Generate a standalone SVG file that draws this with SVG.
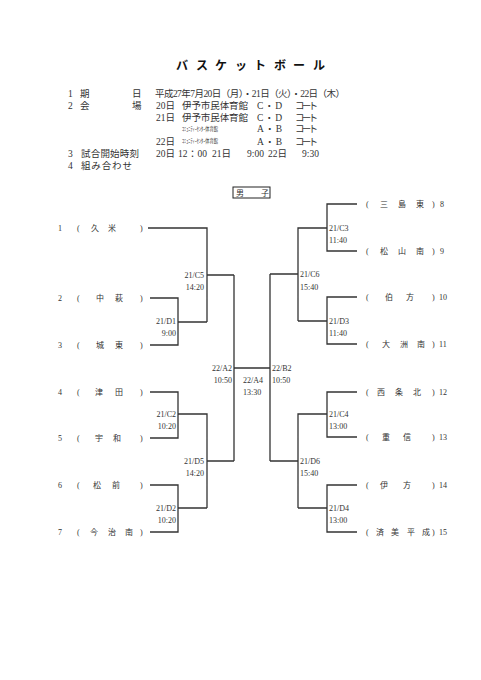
<svg xmlns="http://www.w3.org/2000/svg" width="481" height="680" viewBox="0 0 481 680">
<style>
.t{font-family:"Liberation Serif","Noto Sans CJK JP",serif;fill:#333}
.h{font-size:9.5px}
.sm{font-size:5.5px}
.n{font-size:8px}
.l{font-size:8px}
.e{text-anchor:end}
.ttl{font-family:"Noto Sans CJK JP",sans-serif;font-size:12px;font-weight:bold;fill:#111}
.ln{stroke:#333;stroke-width:1.3;fill:none}
</style>
<rect width="481" height="680" fill="#fff"/>
<g id="title">
<text class="ttl" x="176 196 215 235 254 274 293 313" y="69.5">バスケットボール</text>
</g>
<g id="header" class="t h">
<text x="68" y="96.5">1</text><text x="80" y="96.5">期</text><text x="132" y="96.5">日</text>
<text x="155" y="96.5" textLength="190" lengthAdjust="spacing">平成27年7月20日（月）・21日（火）・22日（木）</text>
<text x="68" y="108.5">2</text><text x="80" y="108.5">会</text><text x="132" y="108.5">場</text>
<text x="156" y="108.5">20日</text><text x="182" y="108.5" textLength="66" lengthAdjust="spacing">伊予市民体育館</text><text x="257" y="108.5" textLength="25" lengthAdjust="spacing">C・D</text><text x="295" y="108.5" textLength="23" lengthAdjust="spacing">コート</text>
<text x="156" y="120.5">21日</text><text x="182" y="120.5" textLength="66" lengthAdjust="spacing">伊予市民体育館</text><text x="257" y="120.5" textLength="25" lengthAdjust="spacing">C・D</text><text x="295" y="120.5" textLength="23" lengthAdjust="spacing">コート</text>
<text class="sm" x="182" y="130.5" textLength="36" lengthAdjust="spacingAndGlyphs">ｺﾐｭﾆﾃｨｰｾﾝﾀｰ体育館</text><text x="257" y="132" textLength="25" lengthAdjust="spacing">A・B</text><text x="295" y="132" textLength="23" lengthAdjust="spacing">コート</text>
<text x="156" y="144.5">22日</text><text class="sm" x="182" y="143" textLength="36" lengthAdjust="spacingAndGlyphs">ｺﾐｭﾆﾃｨｰｾﾝﾀｰ体育館</text><text x="257" y="144.5" textLength="25" lengthAdjust="spacing">A・B</text><text x="295" y="144.5" textLength="23" lengthAdjust="spacing">コート</text>
<text x="68" y="156.5">3</text><text x="81" y="156.5" textLength="58" lengthAdjust="spacing">試合開始時刻</text>
<text x="156" y="156.5">20日</text><text x="178" y="156.5" textLength="29" lengthAdjust="spacing">12：00</text><text x="212" y="156.5">21日</text><text x="247" y="156.5">9:00</text><text x="268" y="156.5">22日</text><text x="302" y="156.5">9:30</text>
<text x="68" y="168.5">4</text><text x="81" y="168.5" textLength="51" lengthAdjust="spacing">組み合わせ</text>
</g>
<g id="label-boys">
<rect x="233" y="187" width="37" height="11" fill="none" stroke="#222" stroke-width="1"/>
<text class="t n" x="236" y="195.5">男</text><text class="t n" x="261" y="195.5">子</text>
</g>
<g id="connectors" class="ln">
<path d="M148,228H207V322M150,298H178V345H150M178,322H207M207,275H234"/>
<path d="M150,392H178V438H150M178,414H207V508M150,485H178V532H150M178,508H207M207,461H234"/>
<path d="M234,275V461M234,368H270M270,274V461"/>
<path d="M357,204H327V251H357M327,228H298V321M357,297H327V344H357M327,321H298M298,274H270"/>
<path d="M357,392H327V437H357M327,414H298V508M357,485H327V532H357M327,508H298M298,461H270"/>
</g>
<g id="teams" class="t n">
<g id="t1"><text x="58" y="231">1</text><text x="77" y="231">(</text><text x="91 108" y="231">久米</text><text x="140" y="231">)</text></g>
<g id="t2"><text x="58" y="301">2</text><text x="77" y="301">(</text><text x="96 115" y="301">中萩</text><text x="140" y="301">)</text></g>
<g id="t3"><text x="58" y="348">3</text><text x="77" y="348">(</text><text x="96 115" y="348">城東</text><text x="140" y="348">)</text></g>
<g id="t4"><text x="58" y="395">4</text><text x="77" y="395">(</text><text x="95 115" y="395">津田</text><text x="140" y="395">)</text></g>
<g id="t5"><text x="58" y="441">5</text><text x="77" y="441">(</text><text x="95 113" y="441">宇和</text><text x="140" y="441">)</text></g>
<g id="t6"><text x="58" y="488">6</text><text x="77" y="488">(</text><text x="93 112" y="488">松前</text><text x="140" y="488">)</text></g>
<g id="t7"><text x="58" y="535">7</text><text x="77" y="535">(</text><text x="90 108 125" y="535">今治南</text><text x="140" y="535">)</text></g>
<g id="t8"><text x="366" y="207">(</text><text x="380 398 416" y="207">三島東</text><text x="432" y="207">)</text><text x="440" y="207">8</text></g>
<g id="t9"><text x="366" y="254">(</text><text x="380 398 416" y="254">松山南</text><text x="432" y="254">)</text><text x="440" y="254">9</text></g>
<g id="t10"><text x="366" y="300">(</text><text x="385 406" y="300">伯方</text><text x="432" y="300">)</text><text x="439" y="300">10</text></g>
<g id="t11"><text x="366" y="347">(</text><text x="382 400 417" y="347">大洲南</text><text x="432" y="347">)</text><text x="439" y="347">11</text></g>
<g id="t12"><text x="366" y="395">(</text><text x="377 395 413" y="395">西条北</text><text x="432" y="395">)</text><text x="439" y="395">12</text></g>
<g id="t13"><text x="366" y="440">(</text><text x="382 403" y="440">重信</text><text x="432" y="440">)</text><text x="439" y="440">13</text></g>
<g id="t14"><text x="366" y="488">(</text><text x="380 403" y="488">伊方</text><text x="432" y="488">)</text><text x="439" y="488">14</text></g>
<g id="t15"><text x="366" y="535">(</text><text x="376 391 407 422" y="535">済美平成</text><text x="432" y="535">)</text><text x="439" y="535">15</text></g>
</g>
<g id="matches" class="t l">
<g id="m-c5"><text class="e" x="204" y="277.5">21/C5</text><text class="e" x="204" y="290">14:20</text></g>
<g id="m-d1"><text class="e" x="176" y="324">21/D1</text><text class="e" x="176" y="336">9:00</text></g>
<g id="m-a2"><text class="e" x="232" y="370.5">22/A2</text><text class="e" x="232" y="383">10:50</text></g>
<g id="m-c2"><text class="e" x="176" y="416.5">21/C2</text><text class="e" x="176" y="429">10:20</text></g>
<g id="m-d5"><text class="e" x="204" y="463.5">21/D5</text><text class="e" x="204" y="476">14:20</text></g>
<g id="m-d2"><text class="e" x="176" y="510.5">21/D2</text><text class="e" x="176" y="523">10:20</text></g>
<g id="m-a4"><text x="243" y="383">22/A4</text><text x="243" y="395">13:30</text></g>
<g id="m-b2"><text x="272" y="370.5">22/B2</text><text x="272" y="383">10:50</text></g>
<g id="m-c6"><text x="300" y="277">21/C6</text><text x="300" y="290">15:40</text></g>
<g id="m-c3"><text x="329" y="230.5">21/C3</text><text x="329" y="243">11:40</text></g>
<g id="m-d3"><text x="329" y="324">21/D3</text><text x="329" y="336">11:40</text></g>
<g id="m-c4"><text x="329" y="416.5">21/C4</text><text x="329" y="429">13:00</text></g>
<g id="m-d6"><text x="300" y="463.5">21/D6</text><text x="300" y="476">15:40</text></g>
<g id="m-d4"><text x="329" y="510.5">21/D4</text><text x="329" y="523">13:00</text></g>
</g>
</svg>
